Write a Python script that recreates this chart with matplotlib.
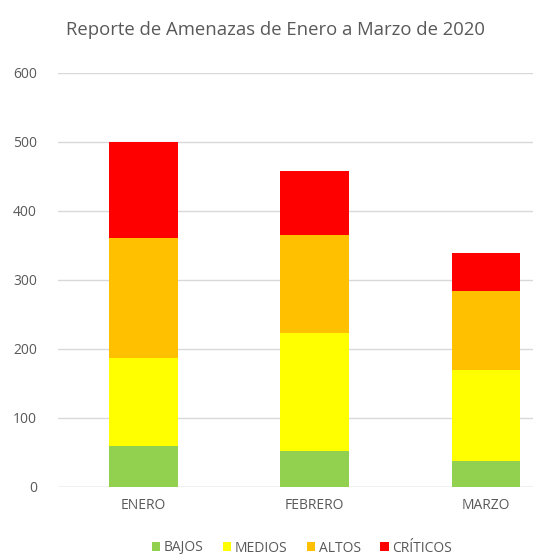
import numpy as np
import matplotlib.pyplot as plt

meses = ['ENERO', 'FEBRERO', 'MARZO']
bajos = [59, 52, 37]
medios = [128, 171, 132]
altos = [174, 142, 115]
criticos = [139, 93, 54]
series = [('BAJOS', bajos, '#92D050'),
          ('MEDIOS', medios, '#FFFF00'),
          ('ALTOS', altos, '#FFC000'),
          ('CRÍTICOS', criticos, '#FF0000')]

plt.rcParams['font.family'] = ['Open Sans', 'DejaVu Sans']
gris = '#595959'

fig = plt.figure(figsize=(5.33, 5.59), dpi=100)
ax = fig.add_axes([57.75 / 533, 72.3 / 559, (533 - 57.75) / 533, 414 / 559])

x = np.arange(len(meses))
base = np.zeros(len(meses))
for nombre, vals, color in series:
    ax.bar(x, vals, width=0.40, bottom=base, color=color, label=nombre, zorder=3)
    base += np.array(vals)

ax.set_ylim(0, 600)
ax.set_xlim(-0.5, 2 + (533 - 486) / 171.5)
ax.set_yticks(range(0, 601, 100))
ax.set_xticks(x)
ax.set_xticklabels(meses)
ax.yaxis.grid(True, color='#d9d9d9', linewidth=1, zorder=0)
for s in ax.spines.values():
    s.set_visible(False)
ax.axhline(0, color='#d9d9d9', linewidth=1, zorder=2)
ax.tick_params(axis='both', length=0, labelsize=10, colors=gris)
ax.tick_params(axis='y', pad=15)
ax.tick_params(axis='x', pad=8)

fig.text(276 / 533, 1 - 30 / 559, 'Reporte de Amenazas de Enero a Marzo de 2020',
         ha='center', va='center', fontsize=13.3, color=gris)

fig.legend(loc='center', bbox_to_anchor=(302 / 533, 1 - 548 / 559), ncol=4,
           frameon=False, fontsize=10, labelcolor=gris, handlelength=0.6,
           handleheight=0.6, handletextpad=0.25, columnspacing=1.4)

fig.savefig('out.png', dpi=100)
